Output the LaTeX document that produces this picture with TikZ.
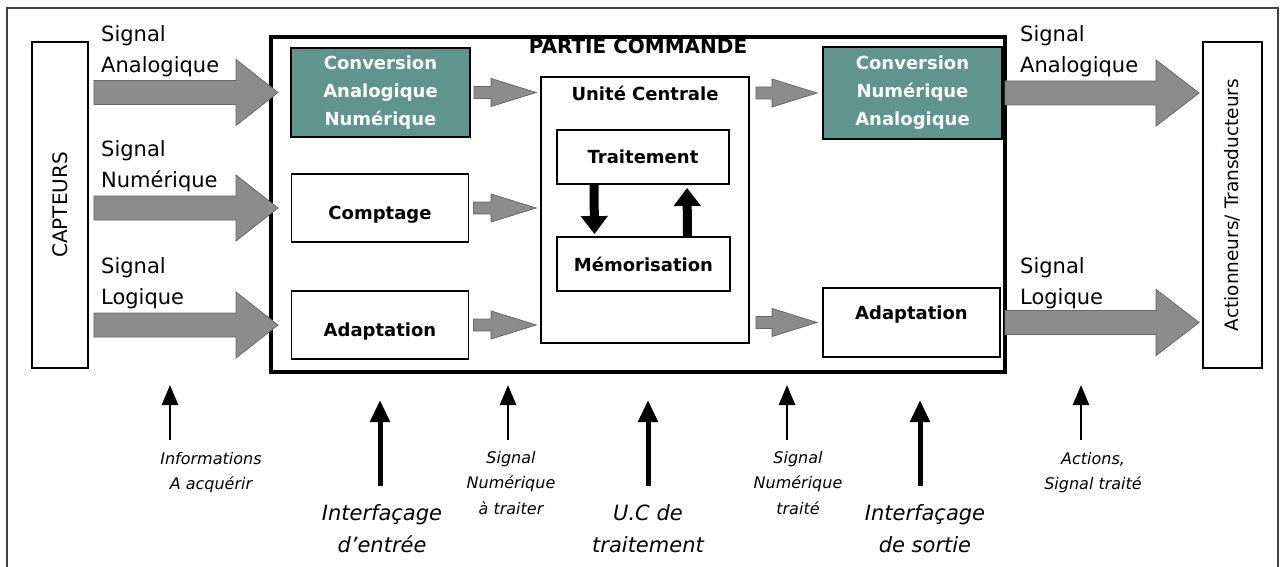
\documentclass[tikz,border=0pt]{standalone}
\usepackage{fontspec}
\setmainfont{DejaVu Sans}
\usetikzlibrary{arrows.meta, calc, positioning}

\definecolor{convTeal}{HTML}{5F948F}
\definecolor{arrowGray}{HTML}{8C8C8C}

\newcommand{\sigFont}{\fontsize{21}{31}\selectfont}
\newcommand{\boxFont}{\fontsize{18}{28}\selectfont\bfseries}
\newcommand{\titleFont}{\fontsize{20}{24}\selectfont\bfseries}
\newcommand{\noteFont}{\fontsize{16}{25.5}\selectfont\itshape}
\newcommand{\roleFont}{\fontsize{21}{32}\selectfont\itshape}

\tikzset{
    frameBox/.style={draw, line width=1.8pt, inner sep=0pt},
    tealBox/.style={frameBox, fill=convTeal, text=white, font=\boxFont, align=center},
    whiteBox/.style={frameBox, fill=white, font=\boxFont, align=center},
    sideBox/.style={frameBox, fill=white, rotate=90},
    fatArrow/.style={fill=arrowGray, draw=arrowGray!75!black, line width=0.8pt},
    feedArrow/.style={-{Triangle[length=18pt, width=26pt]}, line width=9pt},
    thinUp/.style={-{Triangle[length=20pt, width=16pt]}, line width=2.5pt},
    thickUp/.style={-{Triangle[length=22pt, width=19pt]}, line width=5pt},
    sigLabel/.style={anchor=north west, inner sep=0pt, align=left, font=\sigFont},
    noteLabel/.style={anchor=north, inner sep=0pt, align=center, font=\noteFont},
    roleLabel/.style={anchor=north, inner sep=0pt, align=center, font=\roleFont},
}
% fat block arrow: from, to, half shaft, half head, head length
\newcommand{\fatLink}[5]{
    \draw[fatArrow] let \p1=(#1), \p2=(#2) in
        (\x1,\y1+#3) -- (\x2-#5,\y1+#3) -- (\x2-#5,\y1+#4) -- (\x2,\y1)
        -- (\x2-#5,\y1-#4) -- (\x2-#5,\y1-#3) -- (\x1,\y1-#3) -- cycle;
}

\begin{document}
\begin{tikzpicture}[x=1pt, y=-1pt]
    \path[use as bounding box, clip] (0,0) rectangle (1283,567);
    \fill[white] (0,0) rectangle (1283,567);
    \draw[line width=2pt, black!75] (7,8) rectangle (1278,600);

    % side blocks (rotated: south is the right side, north the left side)
    \node[sideBox, minimum width=326pt, minimum height=56pt, font=\fontsize{20}{24}\selectfont] (capteurs) at (60,205) {CAPTEURS};
    \node[sideBox, minimum width=326pt, minimum height=59pt, font=\fontsize{18.5}{22}\selectfont] (act) at (1232.5,205) {Actionneurs/ Transducteurs};

    % partie commande
    \node[draw, line width=4pt, minimum width=734pt, minimum height=335pt,
        label={[anchor=north, inner sep=0pt, yshift=-3.5pt, font=\titleFont]north:PARTIE COMMANDE}] (pc) at (638,204.5) {};

    \node[tealBox, minimum width=179pt, minimum height=89pt] (can) at (380.5,92.5) {Conversion\\Analogique\\Numérique};
    \node[whiteBox, minimum width=177pt, minimum height=68pt] (comptage) at (380,208) {\raisebox{-7pt}[\height][\depth]{Comptage}};
    \node[whiteBox, minimum width=177pt, minimum height=68pt] (adaptL) at (380,325) {\raisebox{-7pt}[\height][\depth]{Adaptation}};

    \node[whiteBox, minimum width=208pt, minimum height=266pt,
        label={[anchor=north, inner sep=0pt, yshift=-9.5pt, font=\boxFont]north:Unité Centrale}] (uc) at (645,210) {};
    \node[whiteBox, minimum width=172pt, minimum height=54pt] (trait) at (643,157) {Traitement};
    \node[whiteBox, minimum width=173pt, minimum height=54pt] (memo) at (643.5,264) {Mémorisation};

    \node[tealBox, minimum width=179pt, minimum height=92pt] (cna) at (912.5,93) {Conversion\\Numérique\\Analogique};
    \node[whiteBox, minimum width=177pt, minimum height=69pt] (adaptR) at (911.5,322.5) {\raisebox{8pt}[\height][\depth]{Adaptation}};

    \draw[feedArrow, shorten >=2pt] ([xshift=-49pt]trait.south) -- ([xshift=-49pt]memo.north);
    \draw[feedArrow, shorten >=3pt] ([xshift=44pt]memo.north) -- ([xshift=44pt]trait.south);

    % inputs
    \fatLink{$(capteurs.south |- can.west)+(5,0)$}{$(pc.west |- can.west)+(9,0)$}{12pt}{33pt}{42pt}
    \fatLink{$(capteurs.south |- comptage.west)+(5,0)$}{$(pc.west |- comptage.west)+(9,0)$}{12pt}{33pt}{42pt}
    \fatLink{$(capteurs.south |- adaptL.west)+(5,0)$}{$(pc.west |- adaptL.west)+(9,0)$}{12pt}{33pt}{42pt}

    \fatLink{$(can.east)+(3,0)$}{$(uc.west |- can.east)+(-4,0)$}{6pt}{14pt}{45pt}
    \fatLink{$(comptage.east)+(4,0)$}{$(uc.west |- comptage.east)+(-4,0)$}{6pt}{14pt}{45pt}
    \fatLink{$(adaptL.east)+(4,0)$}{$(uc.west |- adaptL.east)+(-4,0)$}{6pt}{14pt}{45pt}

    % outputs
    \fatLink{$(uc.east |- cna.west)+(6,0)$}{$(cna.west)+(-5,0)$}{6pt}{14pt}{45pt}
    \fatLink{$(uc.east |- adaptR.west)+(6,0)$}{$(adaptR.west)+(-5,0)$}{6pt}{14pt}{45pt}
    \fatLink{$(cna.east)+(2,0)$}{$(act.north |- cna.east)+(-3,0)$}{12pt}{33pt}{43pt}
    \fatLink{$(adaptR.east)+(4,0)$}{$(act.north |- adaptR.east)+(-3,0)$}{12pt}{33pt}{43pt}

    \node[sigLabel] (sigAnaIn) at (101,25) {Signal\\Analogique};
    \node[sigLabel] (sigNumIn) at (101,140) {Signal\\Numérique};
    \node[sigLabel] (sigLogIn) at (101,257) {Signal\\Logique};
    \node[sigLabel] (sigAnaOut) at (1020,25) {Signal\\Analogique};
    \node[sigLabel] (sigLogOut) at (1020,257) {Signal\\Logique};

    % bottom notes
    \foreach \ax/\an in {170/infoArr, 508/inArr, 787/outArr, 1081/actArr} {
        \coordinate (\an-foot) at (\ax,440);
        \coordinate (\an-tip) at (\ax,385);
        \draw[thinUp] (\an-foot) -- (\an-tip);
    }
    \foreach \ax/\an in {380/inIf, 648/ucIf, 920/outIf} {
        \coordinate (\an-foot) at (\ax,486);
        \coordinate (\an-tip) at (\ax,400);
        \draw[thickUp] (\an-foot) -- (\an-tip);
    }

    \node[noteLabel] (infoNote) at (211,452) {Informations\\A acquérir};
    \node[noteLabel] (inNote) at (511,451) {Signal\\Numérique\\à traiter};
    \node[noteLabel] (outNote) at (798,451) {Signal\\Numérique\\traité};
    \node[noteLabel] (actNote) at (1093,452) {Actions,\\Signal traité};

    \node[roleLabel] (inRole) at (382,504) {Interfaçage\\d’entrée};
    \node[roleLabel] (ucRole) at (648,504) {U.C de\\traitement};
    \node[roleLabel] (outRole) at (925,504) {Interfaçage\\de sortie};
\end{tikzpicture}
\end{document}
